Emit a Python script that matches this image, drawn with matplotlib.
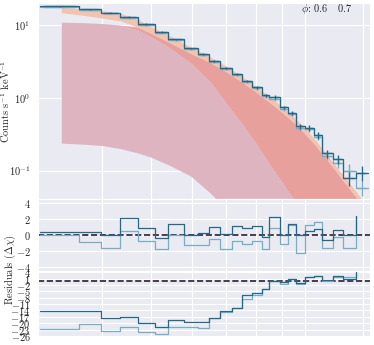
import numpy as np
import matplotlib
matplotlib.use('Agg')
import matplotlib.pyplot as plt
import seaborn as sns

sns.set_style('darkgrid')
plt.rcParams.update({
    'font.family': 'serif',
    'font.serif': ['cmr10'],
    'mathtext.fontset': 'cm',
    'axes.formatter.use_mathtext': True,
    'font.size': 7.5,
    'axes.labelsize': 7.5,
    'xtick.labelsize': 7.5,
    'ytick.labelsize': 7.5,
})

# --- spectrum (keV bin edges, counts/s/keV) ---
edges = [3.03, 3.61, 3.98, 4.34, 4.70, 5.08, 5.40, 5.78, 6.16, 6.47, 6.82, 7.20, 7.53,
         7.88, 8.24, 8.50, 8.94, 9.26, 9.60, 9.99, 10.41, 10.79, 11.33, 11.85, 12.57, 13.26]
rate_06 = [18.1, 16.6, 14.8, 13.0, 10.3, 8.1, 6.36, 4.78, 3.99, 3.23, 2.59, 2.12, 1.71,
           1.39, 1.09, 1.03, 0.74, 0.62, 0.41, 0.385, 0.305, 0.172, 0.142, 0.078, 0.093]
rate_07 = [18.0, 16.3, 14.5, 12.6, 10.0, 7.9, 6.2, 4.65, 3.85, 3.15, 2.5, 2.05, 1.65,
           1.35, 1.05, 0.97, 0.70, 0.60, 0.38, 0.37, 0.29, 0.16, 0.125, 0.10, 0.058]
frac_err = [0.02, 0.02, 0.02, 0.02, 0.025, 0.025, 0.03, 0.03, 0.035, 0.035, 0.04, 0.04, 0.045,
            0.05, 0.05, 0.06, 0.06, 0.07, 0.08, 0.09, 0.10, 0.13, 0.14, 0.22, 0.24]

# model bands
band_e = [3.33, 3.7, 4.03, 4.35, 4.7, 5.0, 5.4, 5.97, 6.5, 7.0, 7.5, 8.0, 8.5, 9.0, 9.5,
          10.0, 10.5, 11.0, 11.5, 12.0, 12.5, 13.0, 13.2]
total_hi = [17.5, 16.6, 15.7, 14.5, 12.0, 9.5, 7.3, 5.0, 3.7, 2.75, 2.0, 1.45, 1.05, 0.77,
            0.55, 0.38, 0.26, 0.17, 0.115, 0.078, 0.055, 0.038, 0.033]
total_lo = [14.8, 13.6, 12.4, 11.4, 9.4, 7.7, 5.9, 4.1, 3.1, 2.3, 1.68, 1.22, 0.88, 0.64,
            0.46, 0.32, 0.22, 0.145, 0.098, 0.066, 0.046, 0.032, 0.028]
cont_hi = [11.0, 10.8, 10.5, 10.0, 8.6, 6.9, 5.0, 3.0, 1.7, 0.85, 0.45, 0.24, 0.125, 0.07,
           0.04, 0.022, 0.012, 0.006, 0.003, 0.0015, 0.001, 0.001, 0.001]
cont_lo = [0.238, 0.23, 0.22, 0.2, 0.175, 0.152, 0.12, 0.084, 0.05, 0.03, 0.017, 0.01, 0.006,
           0.004, 0.002, 0.001, 0.001, 0.001, 0.001, 0.001, 0.001, 0.001, 0.001]
refl_hi = [11.0, 10.8, 10.5, 10.0, 9.4, 7.7, 5.9, 4.1, 3.1, 2.3, 1.68, 1.22, 0.88, 0.64,
           0.46, 0.32, 0.22, 0.145, 0.098, 0.066, 0.046, 0.032, 0.028]

# residuals (delta chi)
res1_06 = [0.37, 0.37, -0.04, 2.09, 0.86, -0.37, 1.35, -0.04, 0.25, 0.98, 0.12, 1.19, 0.86,
           1.11, -0.29, 2.3, 0.04, 1.35, 0.04, 0.53, 0.74, -0.57, 0.61, -0.04, 2.42]
res1_07 = [-0.04, -0.86, -1.6, 0.53, -0.7, -1.8, -0.04, -1.27, -1.19, -0.49, -1.68, -0.7, -1.11,
           -0.78, -1.8, 0.94, -1.11, 1.27, -2.21, 1.27, 1.6, -1.6, -0.29, -1.6, 2.42]
res2_06 = [-14.3, -14.3, -17.7, -17.2, -20.1, -21.9, -18.7, -19.2, -19.6, -17.4, -14.3, -13.0,
           -6.8, -6.0, -4.1, -0.1, -0.8, 1.0, -1.0, 1.5, 2.3, 0.5, 2.0, 0.8, 4.1]
res2_07 = [-22.7, -20.4, -23.5, -21.9, -24.3, -25.2, -21.9, -21.9, -22.1, -17.4, -14.6, -13.0,
           -8.8, -6.8, -4.1, -0.1, -1.6, 1.0, -1.6, 1.5, 2.3, -0.2, 1.5, 1.5, 4.1]

dark = '#266884'
light = '#7aadc2'

edges_a = np.array(edges)
centers = np.sqrt(edges_a[:-1] * edges_a[1:])
xerr = np.vstack([centers - edges_a[:-1], edges_a[1:] - centers]) * 0.8

fig = plt.figure(figsize=(3.74, 3.45), dpi=100)
gs = fig.add_gridspec(3, 1, height_ratios=[196, 72, 66], hspace=0,
                      left=0.102, right=0.989, top=0.991, bottom=0.023)
ax0 = fig.add_subplot(gs[0])
ax1 = fig.add_subplot(gs[1], sharex=ax0)
ax2 = fig.add_subplot(gs[2], sharex=ax0)

# bands
ax0.fill_between(band_e, cont_lo, cont_hi, color='#dfb4c1', lw=0, zorder=1)
ax0.fill_between(band_e, cont_hi, refl_hi, color='#e8a09c', lw=0, zorder=1)
ax0.fill_between(band_e, total_lo, total_hi, color='#f3c3b1', lw=0, zorder=1)

for rate, col in [(rate_07, light), (rate_06, dark)]:
    r = np.array(rate)
    ax0.step(edges, np.append(r, r[-1]), where='post', color=col, lw=0.9, zorder=3)
    ax0.errorbar(centers, r, yerr=r * np.array(frac_err), xerr=xerr, fmt='none',
                 ecolor=col, elinewidth=1.0, capsize=0, zorder=4)

ax0.set_xscale('log')
ax0.set_yscale('log')
ax0.set_ylim(0.0405, 20.1)
ax0.set_xlim(3.0, 13.4)
ax0.set_ylabel(r'Counts s$^{-1}$ keV$^{-1}$')
ax0.yaxis.set_label_coords(-0.078, 0.5)
ax0.text(0.946, 0.969, r'$\phi$: 0.6   0.7', transform=ax0.transAxes,
         ha='right', va='center', fontsize=7.5)

for ax, r06, r07, lim, ticks in [(ax1, res1_06, res1_07, (-4.5, 4.5), [4, 2, 0, -2, -4]),
                                 (ax2, res2_06, res2_07, (-26.5, 4.5), list(range(4, -27, -3)))]:
    ax.step(edges[:-1], r07, where='post', color=light, lw=0.9, zorder=3)
    ax.step(edges[:-1], r06, where='post', color=dark, lw=0.9, zorder=3)
    ax.axhline(0, color='#2b1d33', ls='--', lw=1.2, zorder=2)
    ax.set_ylim(*lim)
    ax.set_yticks(ticks)

for ax in (ax0, ax1, ax2):
    ax.set_xticks([4, 5, 6, 7, 8, 9, 10, 13])
    ax.xaxis.set_minor_locator(matplotlib.ticker.NullLocator())
    ax.tick_params(labelbottom=False)
    ax.tick_params(axis='y', pad=2)

fig.text(0.027, 1 - 270 / 345, r'Residuals ($\Delta\chi$)', rotation=90,
         ha='center', va='center', fontsize=7.5)

fig.savefig('out.png', dpi=100)
